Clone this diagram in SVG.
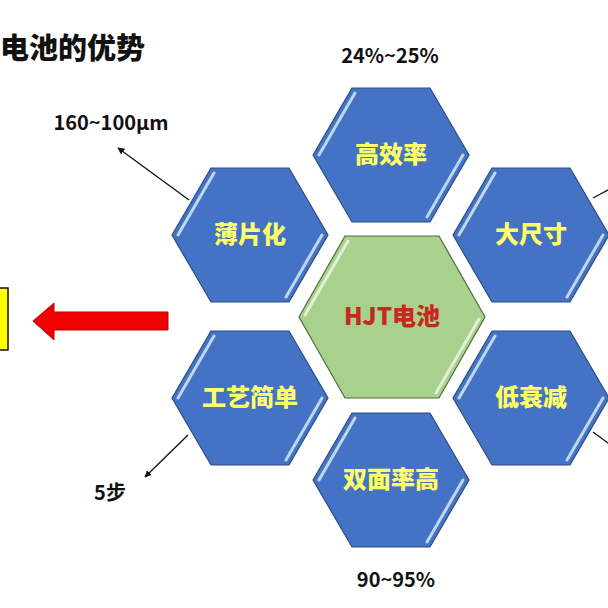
<svg xmlns="http://www.w3.org/2000/svg" width="608" height="608" viewBox="0 0 608 608">
<style>
.hex{fill:#4472C4;stroke:#2E4C80;stroke-width:1.2}
.hexc{fill:#A9D18E;stroke:#4F6B3F;stroke-width:1.2}
.hl{stroke:#BDD7EE;stroke-width:3;stroke-linecap:round;fill:none}
.hlc{stroke:#E2F0D9;stroke-width:3;stroke-linecap:round;fill:none}
.lbl{font-family:"Noto Sans CJK SC","Noto Sans",sans-serif;font-weight:900;font-size:24px;fill:#FFFF66;text-anchor:middle}
.note{font-family:"Noto Sans CJK SC","Noto Sans","Liberation Sans",sans-serif;font-weight:700;font-size:20px;fill:#111;text-anchor:middle}
.conn{stroke:#111;stroke-width:1.3;fill:none}
</style>
<defs>
<path id="h" d="M-78,0 L-39,-67 L39,-67 L78,0 L39,67 L-39,67 Z"/>
<marker id="ah" viewBox="0 0 10 10" refX="9" refY="5" markerWidth="7" markerHeight="7" orient="auto" markerUnits="userSpaceOnUse">
<path d="M0,0 L10,5 L0,10 Z" fill="#111"/>
</marker>
</defs>
<rect width="608" height="608" fill="#fff"/>
<text x="0" y="59" font-family="'Noto Sans CJK SC',sans-serif" font-weight="900" font-size="29" fill="#111">电池的优势</text>
<g id="yellowbox"><rect x="-2" y="288" width="10" height="62" fill="#FFFF00" stroke="#111" stroke-width="1.5"/></g>
<g id="redarrow"><polygon points="33,321 54,303 54,312 168,312 168,330 54,330 54,340" fill="#F00000" stroke="#C00000" stroke-width="1"/></g>
<g id="connectors">
<line class="conn" x1="189" y1="200" x2="118" y2="148" marker-end="url(#ah)"/>
<line class="conn" x1="188" y1="435" x2="145" y2="477" marker-end="url(#ah)"/>
<line class="conn" x1="593" y1="198" x2="612" y2="188"/>
<line class="conn" x1="593" y1="432" x2="612" y2="446"/>
</g>
<g id="n_top" transform="translate(391,155)">
<use href="#h" class="hex"/>
<path class="hl" d="M-36,-62 L-72,0 M72,0 L36,62"/>
<text class="lbl" y="8">高效率</text>
</g>
<g id="n_ul" transform="translate(250,235)">
<use href="#h" class="hex"/>
<path class="hl" d="M-36,-62 L-72,0 M72,0 L36,62"/>
<text class="lbl" y="8">薄片化</text>
</g>
<g id="n_ur" transform="translate(531,235)">
<use href="#h" class="hex"/>
<path class="hl" d="M-36,-62 L-72,0 M72,0 L36,62"/>
<text class="lbl" y="8">大尺寸</text>
</g>
<g id="n_ll" transform="translate(250,398)">
<use href="#h" class="hex"/>
<path class="hl" d="M-36,-62 L-72,0 M72,0 L36,62"/>
<text class="lbl" y="8">工艺简单</text>
</g>
<g id="n_lr" transform="translate(531,398)">
<use href="#h" class="hex"/>
<path class="hl" d="M-36,-62 L-72,0 M72,0 L36,62"/>
<text class="lbl" y="8">低衰减</text>
</g>
<g id="n_bot" transform="translate(391,480)">
<use href="#h" class="hex"/>
<path class="hl" d="M-36,-62 L-72,0 M72,0 L36,62"/>
<text class="lbl" y="8">双面率高</text>
</g>
<g id="n_center" transform="translate(392,317)">
<path class="hexc" d="M-93,0 L-47,-81 L47,-81 L93,0 L47,81 L-47,81 Z"/>
<path class="hlc" d="M-44,-76 L-87,-2 M87,2 L44,76"/>
<text y="8" text-anchor="middle" font-family="'Noto Sans CJK SC',sans-serif" font-weight="900" font-size="24" fill="#C8281E">HJT电池</text>
</g>
<text class="note" x="390" y="63">24%~25%</text>
<text class="note" x="111" y="130">160~100μm</text>
<text class="note" x="110" y="500">5步</text>
<text class="note" x="396" y="587">90~95%</text>
</svg>
